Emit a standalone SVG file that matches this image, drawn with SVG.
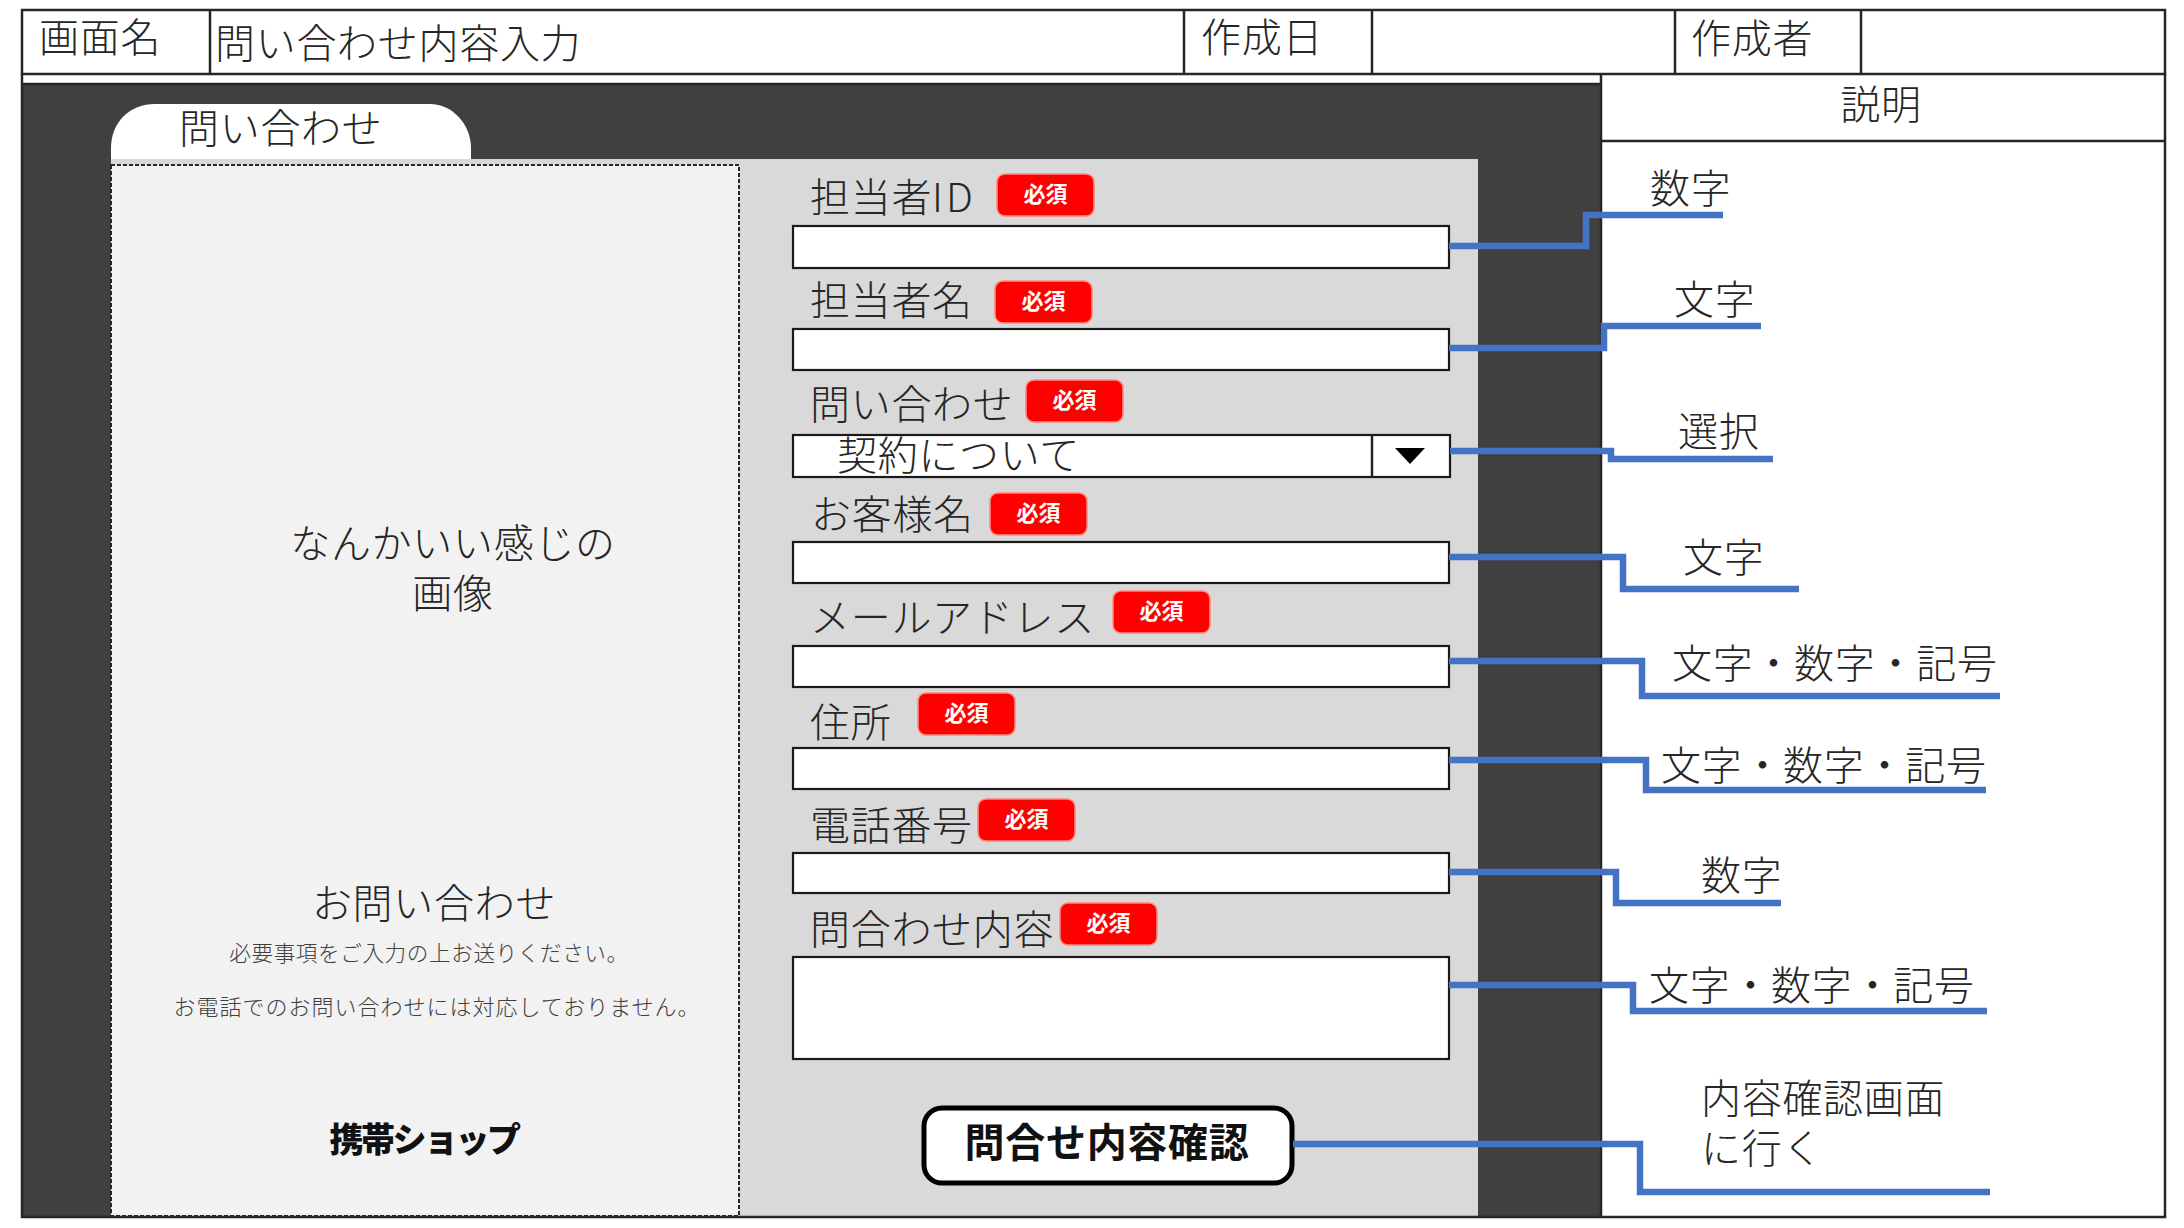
<svg xmlns="http://www.w3.org/2000/svg" width="2184" height="1228" viewBox="0 0 2184 1228">
<style>
text{font-family:"Noto Sans CJK JP","Noto Sans",sans-serif;font-size:40px;font-weight:300;fill:#262626;letter-spacing:.7px}
.m{text-anchor:middle}
.line{fill:none;stroke:#262626;stroke-width:2.5}
.field{fill:#fff;stroke:#1a1a1a;stroke-width:2.2}
.badge{fill:#f00;stroke:#ff8a80;stroke-width:1.5}
.bt{font-size:22px;font-weight:700;fill:#fff;text-anchor:middle;letter-spacing:0}
.small{font-size:21.6px;fill:#404040;text-anchor:middle;letter-spacing:.6px}
.conn{fill:none;stroke:#4472c4;stroke-width:6.5}
</style>
<defs>
<g id="badge"><rect class="badge" x="0" y="0" width="97" height="42" rx="8"/><text class="bt" x="48.5" y="28">必須</text></g>
</defs>
<rect width="2184" height="1228" fill="#fff"/>
<g id="header">
<rect class="line" x="22" y="10" width="2143" height="64"/>
<path class="line" d="M210 10V74M1184 10V74M1372 10V74M1675 10V74M1861 10V74"/>
<text x="39" y="52">画面名</text>
<text x="215" y="58">問い合わせ内容入力</text>
<text x="1201" y="52">作成日</text>
<text x="1691" y="53">作成者</text>
</g>
<g id="screen">
<rect x="22" y="84" width="1579" height="1133" fill="#404040"/>
<path d="M22 84H1600" class="line"/>
<path d="M111 160V148C111 122 130 104 155 104H430C452 104 471 124 471 148V160Z" fill="#fff"/>
<text x="179" y="143">問い合わせ</text>
<rect x="111" y="159" width="1367" height="1057" fill="#d9d9d9"/>
<rect x="111" y="165" width="628" height="1051" fill="#f2f2f2" stroke="#262626" stroke-width="2" stroke-dasharray="4 2"/>
<text class="m" x="453" y="558">なんかいい感じの</text>
<text class="m" x="453" y="608">画像</text>
<text class="m" x="434" y="918">お問い合わせ</text>
<text class="small" x="429" y="961">必要事項をご入力の上お送りください。</text>
<text class="small" x="437" y="1015" style="font-size:22px;letter-spacing:1px">お電話でのお問い合わせには対応しておりません。</text>
<text class="m" x="424" y="1152" style="font-size:34px;font-weight:900;fill:#111;letter-spacing:-2.5px">携帯ショップ</text>
</g>
<g id="explain">
<path class="line" d="M1601 74V1217H2165V74M1601 141H2165M22 74V1217H1601"/>
<text class="m" x="1881" y="119">説明</text>
</g>
<g id="field-tantouid"><text x="810" y="212">担当者<tspan style="letter-spacing:3px">ID</tspan></text><rect class="field" x="793" y="226" width="656" height="42"/><use href="#badge" x="997" y="174"/></g>
<g id="field-tantouname"><text x="810" y="315">担当者名</text><rect class="field" x="793" y="329" width="656" height="41"/><use href="#badge" x="995" y="281"/></g>
<g id="field-inquiry"><text x="810" y="419">問い合わせ</text><rect class="field" x="793" y="435" width="657" height="42"/><path class="line" d="M1372 435V477"/><path d="M1395 448H1425L1410 464Z" fill="#000"/><text x="837" y="470">契約について</text><use href="#badge" x="1026" y="380"/></g>
<g id="field-customer"><text x="811" y="529">お客様名</text><rect class="field" x="793" y="542" width="656" height="41"/><use href="#badge" x="990" y="493"/></g>
<g id="field-mail"><text x="810" y="632">メールアドレス</text><rect class="field" x="793" y="646" width="656" height="41"/><use href="#badge" x="1113" y="591"/></g>
<g id="field-address"><text x="810" y="737">住所</text><rect class="field" x="793" y="748" width="656" height="41"/><use href="#badge" x="918" y="693"/></g>
<g id="field-tel"><text x="810" y="840">電話番号</text><rect class="field" x="793" y="853" width="656" height="40"/><use href="#badge" x="978" y="799"/></g>
<g id="field-content"><text x="810" y="944">問合わせ内容</text><rect class="field" x="793" y="957" width="656" height="102"/><use href="#badge" x="1060" y="903"/></g>
<g id="button"><rect x="924" y="1108" width="368" height="75" rx="18" fill="#fff" stroke="#000" stroke-width="5"/><text class="m" x="1107" y="1157" style="font-weight:700;fill:#111">問合せ内容確認</text></g>
<g id="connectors">
<path class="conn" d="M1449 246H1586V215H1723"/>
<path class="conn" d="M1449 348H1604V326H1761"/>
<path class="conn" d="M1450 451H1611V459H1773"/>
<path class="conn" d="M1449 557H1623V589H1799"/>
<path class="conn" d="M1449 661H1642V696H2000"/>
<path class="conn" d="M1449 760H1646V790H1986"/>
<path class="conn" d="M1449 872H1616V903H1781"/>
<path class="conn" d="M1449 985H1633V1011H1987"/>
<path class="conn" d="M1293 1144H1640V1192H1990"/>
</g>
<g id="notes">
<text x="1650" y="203">数字</text>
<text x="1674" y="314">文字</text>
<text x="1678" y="446">選択</text>
<text x="1683" y="572">文字</text>
<text x="1672" y="678">文字・数字・記号</text>
<text x="1661" y="780">文字・数字・記号</text>
<text x="1701" y="890">数字</text>
<text x="1649" y="1000">文字・数字・記号</text>
<text x="1701" y="1113">内容確認画面</text>
<text x="1701" y="1163">に行く</text>
</g>
</svg>
